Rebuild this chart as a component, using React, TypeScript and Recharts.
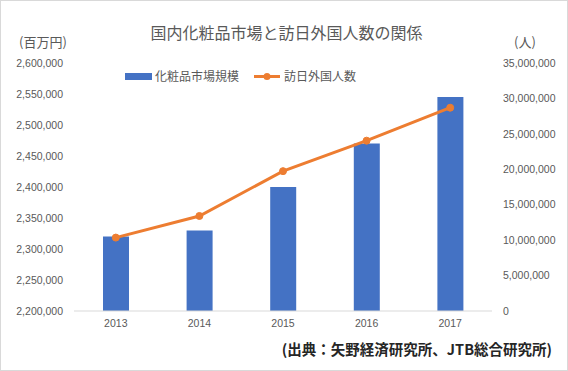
import React from 'react';
import { ComposedChart, Bar, Line, XAxis, YAxis } from 'recharts';

const years = ['2013', '2014', '2015', '2016', '2017'];
const marketSize = [2320000, 2330000, 2400000, 2470000, 2545000];
const visitors = [10360000, 13410000, 19740000, 24040000, 28690000];
const leftTicks = [2200000, 2250000, 2300000, 2350000, 2400000, 2450000, 2500000, 2550000, 2600000];
const rightTicks = [0, 5000000, 10000000, 15000000, 20000000, 25000000, 30000000, 35000000];
const seriesNames = ['化粧品市場規模', '訪日外国人数'];

const BLUE = '#4472C4';
const ORANGE = '#ED7D31';
const GREY = '#595959';
const JP = '"Noto Sans CJK JP", "Noto Sans", sans-serif';
const NUM = '"Liberation Sans", Arial, sans-serif';

const data = years.map((y, i) => ({ year: y, market: marketSize[i], visitors: visitors[i] }));

const fmt = (v: number) => v.toLocaleString('en-US');

// legend drawn by hand so it doesn't push the plot area down
const ChartLegend = () => (
  <div style={{ position: 'absolute', left: 0, top: 67, width: 568, height: 16, fontFamily: JP, fontSize: 12, color: GREY }}>
    <div style={{ position: 'absolute', left: 124, top: 5, width: 27, height: 7, background: BLUE }} />
    <div style={{ position: 'absolute', left: 154, top: 0, lineHeight: '16px', whiteSpace: 'nowrap' }}>{seriesNames[0]}</div>
    <svg style={{ position: 'absolute', left: 252, top: 0 }} width={28} height={16}>
      <line x1={1} y1={8.5} x2={27} y2={8.5} stroke={ORANGE} strokeWidth={3} />
      <circle cx={14} cy={8.5} r={3.5} fill={ORANGE} />
    </svg>
    <div style={{ position: 'absolute', left: 283, top: 0, lineHeight: '16px', whiteSpace: 'nowrap' }}>{seriesNames[1]}</div>
  </div>
);

export default function App() {
  return (
    <div
      style={{
        position: 'absolute',
        left: 0,
        top: 0,
        width: 568,
        height: 371,
        background: '#fff',
        border: '1px solid #d9d9d9',
        boxSizing: 'border-box',
        overflow: 'hidden',
      }}
    >
      <div
        style={{
          position: 'absolute',
          left: 0,
          top: 21,
          width: 571,
          textAlign: 'center',
          fontFamily: JP,
          fontSize: 16,
          lineHeight: '20px',
          color: GREY,
        }}
      >
        国内化粧品市場と訪日外国人数の関係
      </div>
      <div style={{ position: 'absolute', left: 18, top: 32, fontFamily: JP, fontSize: 13, lineHeight: '18px', color: GREY }}>
        (百万円)
      </div>
      <div style={{ position: 'absolute', left: 513, top: 32, fontFamily: JP, fontSize: 13, lineHeight: '18px', color: GREY }}>
        (人)
      </div>
      <div
        style={{
          position: 'absolute',
          right: 15,
          top: 338,
          fontFamily: JP,
          fontSize: 14.5,
          fontWeight: 700,
          lineHeight: '20px',
          color: '#262626',
          whiteSpace: 'nowrap',
        }}
      >
        (出典：矢野経済研究所、JTB総合研究所)
      </div>
      <ChartLegend />
      <div style={{ position: 'absolute', left: -1, top: -1 }}>
        <ComposedChart width={568} height={371} data={data} margin={{ top: 63, right: 0, bottom: 30, left: 0 }}>
          <XAxis
            dataKey="year"
            axisLine={{ stroke: '#d9d9d9' }}
            tickLine={false}
            tickMargin={3}
            height={30}
            tick={{ fill: GREY, fontSize: 10.5, fontFamily: NUM }}
          />
          <YAxis
            yAxisId="left"
            orientation="left"
            width={74}
            domain={[2200000, 2600000]}
            ticks={leftTicks}
            tickFormatter={fmt}
            axisLine={false}
            tickLine={false}
            tickMargin={5}
            allowDataOverflow
            tick={{ fill: GREY, fontSize: 10.5, fontFamily: NUM }}
          />
          <YAxis
            yAxisId="right"
            orientation="right"
            width={76}
            domain={[0, 35000000]}
            ticks={rightTicks}
            tickFormatter={fmt}
            axisLine={false}
            tickLine={false}
            tickMargin={5}
            tick={{ fill: GREY, fontSize: 10.5, fontFamily: NUM, textAnchor: 'start' }}
          />
          <Bar
            yAxisId="left"
            dataKey="market"
            name={seriesNames[0]}
            fill={BLUE}
            barSize={26}
            isAnimationActive={false}
          />
          <Line
            yAxisId="right"
            dataKey="visitors"
            name={seriesNames[1]}
            stroke={ORANGE}
            strokeWidth={3}
            dot={{ r: 3.5, fill: ORANGE, stroke: ORANGE, strokeWidth: 1 }}
            activeDot={false}
            isAnimationActive={false}
          />
        </ComposedChart>
      </div>
    </div>
  );
}
